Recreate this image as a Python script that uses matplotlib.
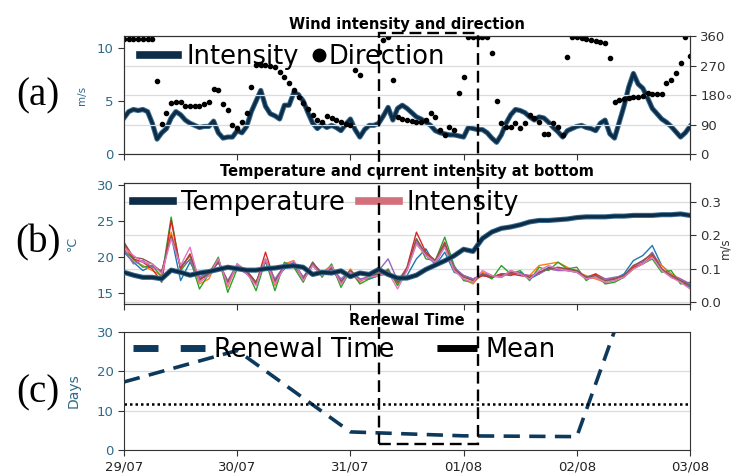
import numpy as np
import pandas as pd
import matplotlib
matplotlib.use("Agg")
import matplotlib.pyplot as plt
import matplotlib.dates as mdates
import matplotlib.patheffects as pe
from matplotlib.lines import Line2D
from matplotlib.patches import Rectangle

# ---------------- data ----------------
hourly = pd.date_range("2019-07-29 00:00", periods=121, freq="h")
two_hourly = pd.date_range("2019-07-29 00:00", periods=61, freq="2h")
daily = pd.date_range("2019-07-29", periods=6, freq="D")

# wind intensity (m/s), hourly
wind_speed = [
    3.4, 4.0, 4.2, 4.1, 4.2, 4.0, 2.9, 1.4, 2.0, 2.4, 3.4, 4.0, 3.7, 3.2, 2.9, 2.7,
    2.5, 2.6, 2.6, 3.1, 2.0, 1.5, 1.6, 1.6, 2.2, 2.0, 2.6, 4.0, 5.0, 6.0, 4.5, 3.8,
    3.6, 3.3, 4.6, 4.6, 5.8, 5.6, 5.0, 3.9, 2.9, 2.4, 2.8, 2.5, 2.7, 2.5, 2.2, 2.8,
    3.3, 2.3, 1.6, 2.3, 2.7, 2.7, 2.9, 3.6, 4.4, 3.2, 4.3, 4.6, 4.3, 3.9, 3.5, 3.3,
    3.0, 2.7, 2.2, 2.0, 1.9, 1.8, 1.8, 1.7, 1.6, 2.5, 2.4, 2.3, 2.3, 2.0, 1.5, 1.1,
    1.8, 2.9, 3.7, 4.2, 4.1, 3.9, 3.5, 3.2, 3.5, 3.4, 3.0, 2.5, 2.1, 1.6, 2.2, 2.4,
    2.6, 2.7, 2.5, 2.4, 2.2, 2.9, 3.2, 1.9, 1.5, 3.0, 4.5, 6.3, 7.6, 6.6, 6.2, 5.3,
    4.3, 3.8, 3.3, 3.0, 2.6, 2.1, 1.6, 2.0, 2.6,
]

# wind direction (degrees), hourly
nan = np.nan
wind_dir = [
    350, 350, 350, 350, 350, 350, 350, 223, 91, 125, 155, 158, 158, 146, 146, 146,
    146, 152, 160, 198, 195, 152, 134, 88, 80, 98, 125, 204, 271, 271, 271, 268,
    265, 250, 235, 217, 195, 174, 155, 137, 119, 104, 98, 116, 110, 104, 98, 92,
    88, 256, 241, nan, nan, nan, 311, 348, 357, 226, 113, 107, 104, 101, 98, 98,
    104, 125, 113, 73, 58, 82, 73, 186, 235, 357, 357, 357, 357, 357, 308, 162,
    94, 82, 82, 94, 79, 94, 119, 110, 98, 61, 61, 94, 82, 58, 296, 357,
    356, 354, 351, 349, 346, 343, 338, 293, 159, 165, 168, 171, 173, 175, 177, 186,
    183, 183, 183, 217, 226, 247, 277, 357, 300,
]

# bottom temperature (degC), every 2 h
temperature = [
    17.9, 17.5, 17.2, 17.2, 17.0, 18.2, 17.9, 17.5, 17.8, 18.0, 18.3, 18.6, 18.4, 18.2,
    18.2, 18.4, 18.5, 18.7, 18.8, 18.6, 17.6, 17.9, 17.8, 18.1, 17.3, 17.8, 17.6, 18.3,
    17.6, 17.1, 17.1, 17.5, 18.3, 18.9, 19.5, 20.2, 21.1, 20.8, 22.6, 23.5, 24.0, 24.2,
    24.5, 24.9, 25.1, 25.1, 25.2, 25.3, 25.5, 25.6, 25.6, 25.6, 25.7, 25.7, 25.8, 25.8,
    25.8, 25.9, 25.9, 26.0, 25.8,
]

# bottom current intensity (m/s) at seven points, every 2 h
current_1 = [0.150, 0.120, 0.095, 0.110, 0.090, 0.200, 0.065, 0.120, 0.070, 0.080, 0.120, 0.060, 0.105, 0.085, 0.060, 0.120, 0.065, 0.100, 0.120, 0.075, 0.110, 0.080, 0.100, 0.065, 0.090, 0.070, 0.070, 0.080, 0.085, 0.065, 0.080, 0.130, 0.160, 0.110, 0.150, 0.090, 0.080, 0.070, 0.080, 0.075, 0.085, 0.080, 0.090, 0.070, 0.085, 0.105, 0.100, 0.095, 0.090, 0.070, 0.075, 0.060, 0.070, 0.085, 0.125, 0.140, 0.170, 0.110, 0.085, 0.060, 0.045]
current_2 = [0.170, 0.125, 0.110, 0.095, 0.080, 0.210, 0.105, 0.140, 0.055, 0.070, 0.130, 0.045, 0.115, 0.095, 0.060, 0.125, 0.050, 0.115, 0.125, 0.065, 0.110, 0.090, 0.110, 0.055, 0.100, 0.060, 0.080, 0.090, 0.095, 0.055, 0.095, 0.175, 0.140, 0.120, 0.165, 0.095, 0.070, 0.055, 0.090, 0.080, 0.075, 0.095, 0.085, 0.080, 0.110, 0.115, 0.120, 0.105, 0.090, 0.080, 0.070, 0.060, 0.065, 0.075, 0.105, 0.125, 0.145, 0.110, 0.085, 0.070, 0.055]
current_3 = [0.155, 0.130, 0.105, 0.110, 0.075, 0.255, 0.095, 0.130, 0.040, 0.085, 0.135, 0.030, 0.100, 0.095, 0.035, 0.125, 0.035, 0.120, 0.105, 0.060, 0.120, 0.075, 0.115, 0.045, 0.095, 0.055, 0.070, 0.080, 0.100, 0.050, 0.100, 0.190, 0.130, 0.125, 0.195, 0.110, 0.065, 0.060, 0.085, 0.070, 0.110, 0.085, 0.095, 0.065, 0.105, 0.095, 0.120, 0.100, 0.105, 0.065, 0.085, 0.055, 0.060, 0.075, 0.100, 0.115, 0.130, 0.090, 0.095, 0.055, 0.060]
current_4 = [0.175, 0.130, 0.120, 0.100, 0.060, 0.245, 0.100, 0.145, 0.065, 0.090, 0.125, 0.060, 0.110, 0.090, 0.055, 0.150, 0.060, 0.105, 0.110, 0.075, 0.115, 0.085, 0.100, 0.060, 0.095, 0.065, 0.080, 0.085, 0.090, 0.060, 0.105, 0.210, 0.150, 0.125, 0.180, 0.100, 0.080, 0.065, 0.080, 0.075, 0.085, 0.085, 0.080, 0.075, 0.090, 0.100, 0.100, 0.100, 0.095, 0.075, 0.085, 0.070, 0.070, 0.080, 0.105, 0.115, 0.140, 0.100, 0.075, 0.065, 0.050]
current_5 = [0.160, 0.115, 0.125, 0.105, 0.095, 0.195, 0.110, 0.125, 0.075, 0.090, 0.120, 0.065, 0.115, 0.085, 0.060, 0.125, 0.070, 0.110, 0.115, 0.075, 0.115, 0.090, 0.105, 0.070, 0.095, 0.070, 0.075, 0.095, 0.130, 0.065, 0.100, 0.180, 0.140, 0.115, 0.170, 0.105, 0.080, 0.070, 0.085, 0.080, 0.075, 0.090, 0.085, 0.080, 0.085, 0.100, 0.095, 0.095, 0.090, 0.075, 0.080, 0.070, 0.075, 0.080, 0.110, 0.120, 0.150, 0.100, 0.080, 0.070, 0.055]
current_6 = [0.180, 0.135, 0.130, 0.115, 0.090, 0.200, 0.105, 0.140, 0.070, 0.085, 0.120, 0.060, 0.110, 0.095, 0.060, 0.130, 0.060, 0.110, 0.115, 0.070, 0.120, 0.085, 0.105, 0.060, 0.095, 0.065, 0.075, 0.085, 0.095, 0.060, 0.100, 0.190, 0.145, 0.125, 0.175, 0.100, 0.075, 0.065, 0.085, 0.075, 0.080, 0.090, 0.085, 0.075, 0.090, 0.100, 0.105, 0.100, 0.095, 0.075, 0.080, 0.065, 0.070, 0.080, 0.110, 0.125, 0.145, 0.100, 0.080, 0.065, 0.050]
current_7 = [0.165, 0.140, 0.120, 0.115, 0.085, 0.190, 0.110, 0.165, 0.060, 0.080, 0.130, 0.050, 0.115, 0.085, 0.050, 0.130, 0.055, 0.105, 0.125, 0.065, 0.110, 0.080, 0.110, 0.055, 0.090, 0.065, 0.075, 0.080, 0.090, 0.040, 0.095, 0.175, 0.140, 0.120, 0.165, 0.095, 0.070, 0.060, 0.095, 0.080, 0.075, 0.095, 0.085, 0.070, 0.095, 0.110, 0.100, 0.095, 0.090, 0.070, 0.075, 0.060, 0.065, 0.075, 0.100, 0.115, 0.135, 0.095, 0.075, 0.060, 0.040]
currents = [current_1, current_2, current_3, current_4, current_5, current_6, current_7]

# renewal time (days), daily, and its mean
renewal_time = [17.3, 25.3, 4.6, 3.6, 3.4, 84.0]
renewal_mean = 11.7

# highlighted period
window_start = pd.Timestamp("2019-07-31 06:00")
window_end = pd.Timestamp("2019-08-01 03:00")

for name, arr, n in [("wind_speed", wind_speed, 121), ("wind_dir", wind_dir, 121),
                     ("temperature", temperature, 61)] + \
                    [(f"current_{i+1}", c, 61) for i, c in enumerate(currents)]:
    assert len(arr) == n, (name, len(arr))

# ---------------- style ----------------
NAVY = "#0c2c47"
HALO = "#3a6d90"
TEAL = "#2d6a87"
DARK = "#333333"
GRID = "#dcdcdc"
CUR_COLORS = ["#1f77b4", "#ff7f0e", "#2ca02c", "#d62728", "#9467bd", "#8c564b", "#e377c2"]
TICK_FS = 9.5
LEG_FS = 18.5

W_PX, H_PX = 738, 474
fig = plt.figure(figsize=(W_PX / 100, H_PX / 100), dpi=100)

def frame(top, bottom):
    return [124 / W_PX, 1 - bottom / H_PX, 566 / W_PX, (bottom - top) / H_PX]

ax1 = fig.add_axes(frame(36, 154))
ax1r = ax1.twinx()
ax2 = fig.add_axes(frame(183, 304))
ax2r = ax2.twinx()
ax3 = fig.add_axes(frame(332, 450))

halo = [pe.Stroke(linewidth=3.7, foreground=HALO), pe.Normal()]

# (a) wind
ax1.plot(hourly, wind_speed, color=NAVY, lw=2.3, path_effects=halo, solid_joinstyle="round")
ax1r.plot(hourly, wind_dir, ls="none", marker="o", ms=3.0, color="black")
ax1.set_ylim(0, 11.13)
ax1.set_yticks([0, 5, 10])
ax1r.set_ylim(0, 360)
ax1r.set_yticks([0, 90, 180, 270, 360])
ax1r.grid(axis="y", color=GRID, lw=0.9)
ax1.set_title("Wind intensity and direction", fontsize=10.5, fontweight="bold", pad=5)
ax1.set_ylabel("m/s", fontsize=7.5, color=TEAL)
ax1.yaxis.set_label_coords(-0.066, 0.5)
ax1r.set_ylabel("°", fontsize=9, color=DARK, rotation=90)
ax1r.yaxis.set_label_coords(1.064, 0.5)

# (b) temperature and current
for c, col in zip(currents, CUR_COLORS):
    ax2r.plot(two_hourly, c, color=col, lw=1.0)
ax2.plot(two_hourly, temperature, color=NAVY, lw=2.3, path_effects=halo, zorder=5)
ax2.set_zorder(ax2r.get_zorder() + 1)
ax2.patch.set_visible(False)
ax2.set_ylim(13.5, 30.3)
ax2.set_yticks([15, 20, 25, 30])
ax2r.set_ylim(-0.005, 0.357)
ax2r.set_yticks([0.0, 0.1, 0.2, 0.3])
ax2r.grid(axis="y", color=GRID, lw=0.9)
ax2.set_title("Temperature and current intensity at bottom", fontsize=10.5,
              fontweight="bold", pad=5)
ax2.set_ylabel("°C", fontsize=9, color=TEAL)
ax2.yaxis.set_label_coords(-0.08, 0.5)
ax2r.set_ylabel("m/s", fontsize=8.5, color=DARK)
ax2r.yaxis.set_label_coords(1.05, 0.46)

# (c) renewal time
ax3.plot(daily, renewal_time, color="#0d3a5c", lw=2.6, ls=(0, (4.5, 2.6)))
ax3.axhline(renewal_mean, color="black", lw=1.8, ls=(0, (1, 1.2)))
ax3.set_ylim(0, 30)
ax3.set_yticks([0, 10, 20, 30])
ax3.grid(axis="y", color=GRID, lw=0.9)
ax3.set_axisbelow(True)
ax3.set_title("Renewal Time", fontsize=10.5, fontweight="bold", pad=5)
ax3.set_ylabel("Days", fontsize=10, color=TEAL)
ax3.yaxis.set_label_coords(-0.076, 0.5)

# shared axis styling
for ax in (ax1, ax2, ax3):
    ax.set_xlim(daily[0], daily[-1])
    ax.xaxis.set_major_locator(mdates.DayLocator())
    ax.xaxis.set_major_formatter(mdates.DateFormatter("%d/%m"))
    ax.tick_params(axis="y", labelsize=TICK_FS, labelcolor=TEAL, color=DARK, length=4)
    ax.tick_params(axis="x", labelsize=TICK_FS, color=DARK, length=4)
    for s in ax.spines.values():
        s.set_color(DARK)
for ax in (ax1r, ax2r):
    ax.tick_params(axis="y", labelsize=TICK_FS, labelcolor=DARK, color=DARK, length=4)
    for s in ax.spines.values():
        s.set_color(DARK)
ax1.tick_params(axis="x", labelbottom=False)
ax2.tick_params(axis="x", labelbottom=False)
ax3.tick_params(axis="x", labelcolor="#222222")

# legends
h_int = Line2D([], [], color=NAVY, lw=5.5)
h_dir = Line2D([], [], ls="none", marker="o", ms=9, color="black")
leg1 = ax1r.legend([h_int, h_dir], ["Intensity", "Direction"], loc="center left",
                   bbox_to_anchor=(0.014, 0.822), ncol=2, frameon=False, fontsize=LEG_FS,
                   numpoints=2, handlelength=2.08, handletextpad=0.05, columnspacing=-1.0,
                   borderpad=0, borderaxespad=0)
# keep only the marker next to the "Direction" label
leg1.legend_handles[1].set_markevery([1])

h_temp = Line2D([], [], color=NAVY, lw=5.5)
h_cur = Line2D([], [], color="#d4707c", lw=5.5)
ax2.legend([h_temp, h_cur], ["Temperature", "Intensity"], loc="center left",
           bbox_to_anchor=(0.016, 0.835), ncol=2, frameon=False, fontsize=LEG_FS,
           handlelength=1.56, handletextpad=0.3, columnspacing=0.55,
           borderpad=0, borderaxespad=0)

# "Mean" key: solid bar on the right part of the key slot
h_ren = Line2D([], [], color="#0d3a5c", lw=5, ls=(0, (3.6, 3.2)))
h_mean = Line2D([], [], color="black", lw=5, ls=(5.8, (5.8, 4.6)))
ax3.legend([h_ren, h_mean], ["Renewal Time", "Mean"], loc="center left",
           bbox_to_anchor=(0.016, 0.847), ncol=2, frameon=False, fontsize=LEG_FS,
           handlelength=2.8, handletextpad=0.35, columnspacing=0.4,
           borderpad=0, borderaxespad=0)

# panel letters
for label, ypx in (("(a)", 96), ("(b)", 243), ("(c)", 393)):
    fig.text(38 / W_PX, 1 - ypx / H_PX, label, family="Liberation Serif",
             fontsize=28, ha="center", va="center")

# highlighted period box spanning the three panels
x0 = ax3.transData.transform((mdates.date2num(window_start), 0))[0] / W_PX
x1 = ax3.transData.transform((mdates.date2num(window_end), 0))[0] / W_PX
y_top, y_bot = 1 - 33 / H_PX, 1 - 444 / H_PX
box = Rectangle((x0, y_bot), x1 - x0, y_top - y_bot, transform=fig.transFigure,
                fill=False, edgecolor="black", lw=1.7, ls=(0, (5, 2.5)), zorder=10)
fig.add_artist(box)

fig.savefig("out.png", dpi=100)
